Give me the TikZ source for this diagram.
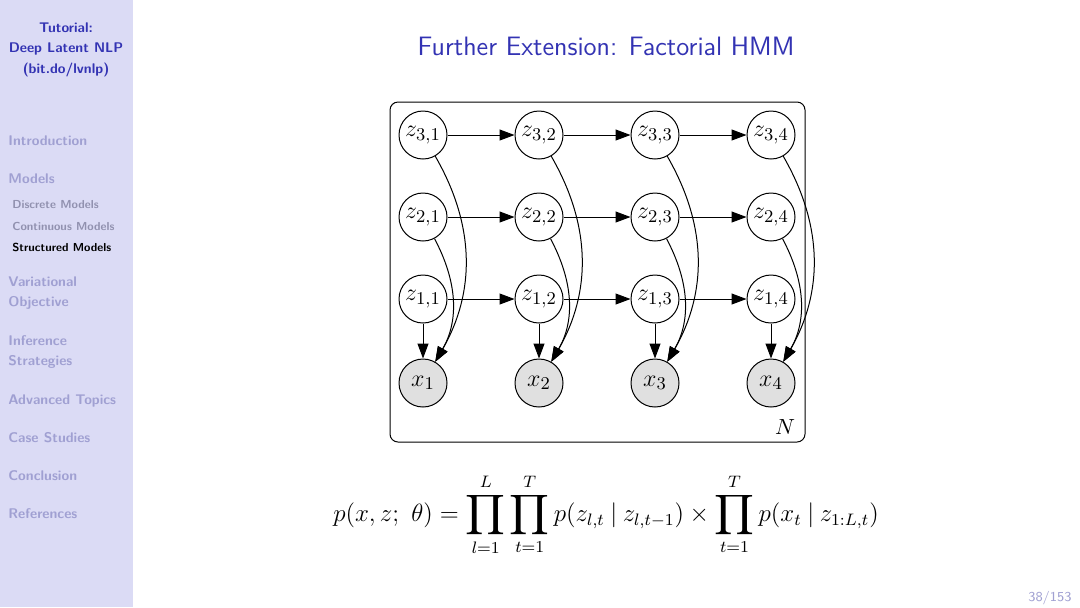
\documentclass[tikz,border=0pt]{standalone}
\usepackage{amsmath}
\usepackage{graphicx}
\usetikzlibrary{arrows.meta}
\definecolor{sidebg}{RGB}{219,219,245}
\definecolor{struct}{RGB}{51,51,179}
\definecolor{fade}{RGB}{160,160,210}
\definecolor{subfade}{RGB}{145,145,175}
\definecolor{xfill}{RGB}{224,224,224}
\newcommand{\myprod}{\mathop{\vcenter{\hbox{\scalebox{1.25}[1.12]{$\displaystyle\prod$}}}}\limits}
\newcommand{\mybar}{\mskip4mu|\mskip4mu}
\begin{document}
\begin{tikzpicture}[x=0.5pt,y=-0.5pt,
  latent/.style={circle,draw,line width=0.5pt,minimum size=24pt,inner sep=0pt,font=\fontsize{13}{15}\selectfont},
  obs/.style={latent,fill=xfill},
  arr/.style={line width=0.5pt,-{Triangle[length=7.5pt,width=5.5pt]}},
  sidetitle/.style={font=\sffamily\bfseries\fontsize{7}{8}\selectfont,text=struct},
  sec/.style={anchor=base west,inner sep=0pt,font=\sffamily\bfseries\fontsize{7}{8}\selectfont,text=fade},
  subsec/.style={anchor=base west,inner sep=0pt,font=\sffamily\bfseries\fontsize{5.8}{7}\selectfont,text=subfade},
  cursub/.style={anchor=base west,inner sep=0pt,font=\sffamily\bfseries\fontsize{5.8}{7}\selectfont,text=black}]
\useasboundingbox (0,0) rectangle (1080,607);
\fill[white] (0,0) rectangle (1080,607);
\fill[sidebg] (0,0) rectangle (133,607);
% sidebar
\node[sidetitle] (st1) at (66,28) {Tutorial:};
\node[sidetitle] (st2) at (66,49) {Deep Latent NLP};
\node[sidetitle] (st3) at (66,70) {(bit.do/lvnlp)};
\node[sec] (s1) at (8,145) {Introduction};
\node[sec] (s2) at (8,183) {Models};
\node[subsec] (ss1) at (12,208) {Discrete Models};
\node[subsec] (ss2) at (12,230) {Continuous Models};
\node[cursub] (ss3) at (12,251) {Structured Models};
\node[sec] (s3) at (8,286) {Variational};
\node[sec] (s3b) at (8,306) {Objective};
\node[sec] (s4) at (8,345) {Inference};
\node[sec] (s4b) at (8,365) {Strategies};
\node[sec] (s5) at (8,404) {Advanced Topics};
\node[sec] (s6) at (8,442) {Case Studies};
\node[sec] (s7) at (8,480) {Conclusion};
\node[sec] (s8) at (8,518) {References};
% title
\node[font=\sffamily\fontsize{13.3}{15}\selectfont,text=struct] (title) at (606,46) {Further Extension: Factorial HMM};
% plate
\draw[rounded corners=4pt,line width=0.5pt] (390,102) rectangle (805,442);
\node[font=\fontsize{11}{13}\selectfont] (N) at (785,427) {$N$};
% nodes
\foreach \t/\px in {1/423,2/539,3/655,4/771}{
  \node[latent] (z3\t) at (\px,135) {$z_{3,\t}$};
  \node[latent] (z2\t) at (\px,217) {$z_{2,\t}$};
  \node[latent] (z1\t) at (\px,299) {$z_{1,\t}$};
  \node[obs] (x\t) at (\px,383) {$x_{\t}$};
}
\foreach \l in {1,2,3}{
  \draw[arr] (z\l1) -- (z\l2);
  \draw[arr] (z\l2) -- (z\l3);
  \draw[arr] (z\l3) -- (z\l4);
}
\foreach \t in {1,2,3,4}{
  \draw[arr] (z1\t) -- (x\t);
  \draw[arr] (z2\t) to[out=-62,in=60] (x\t);
  \draw[arr] (z3\t) to[out=-60,in=60] (x\t);
}
% formula
\node[font=\fontsize{12}{14}\selectfont] (eq) at (606,515) {\scalebox{1.04}{$\displaystyle p(x,z;\ \theta)=\myprod_{l=1}^{L}\myprod_{t=1}^{T}p(z_{l,t}\mybar z_{l,t-1})\times\myprod_{t=1}^{T}p(x_t\mybar z_{1:L,t})$}};
% page number
\node[anchor=base east,inner sep=0pt,font=\sffamily\fontsize{6.8}{8}\selectfont,text=fade] (pg) at (1072,601) {38/153};
\end{tikzpicture}
\end{document}
